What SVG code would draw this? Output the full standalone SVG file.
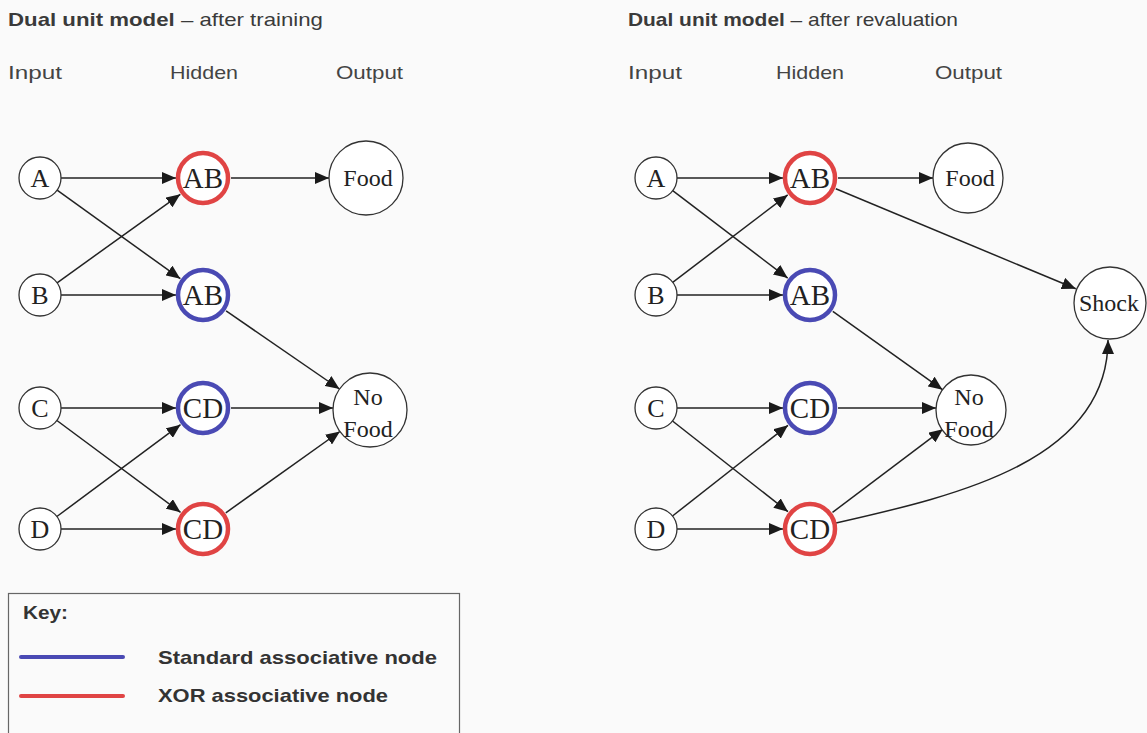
<svg xmlns="http://www.w3.org/2000/svg" width="1147" height="733" viewBox="0 0 1147 733">
<defs>
<marker id="ah" markerUnits="userSpaceOnUse" markerWidth="15" markerHeight="12" refX="14" refY="6" orient="auto">
<path d="M0,0 L14,6 L0,12 z" fill="#1a1a1a"/>
</marker>
<style>
.bg{fill:#fafafa}
.ttl{font-family:"Liberation Sans",Arial,sans-serif;font-size:18.5px;fill:#3a3a3a}
.b{font-weight:bold}
.col{font-family:"Liberation Sans",Arial,sans-serif;font-size:19px;fill:#444}
.in{fill:#fff;stroke:#333;stroke-width:1.3}
.out{fill:#fff;stroke:#333;stroke-width:1.3}
.red{fill:#fff;stroke:#e04444;stroke-width:4.5}
.blue{fill:#fff;stroke:#4a4ab4;stroke-width:4.5}
.nt{font-family:"Liberation Serif","Times New Roman",serif;fill:#222;text-anchor:middle}
.s1{font-size:26px}
.s2{font-size:29px}
.s3{font-size:24px}
.c{fill:none;stroke:#222;stroke-width:1.5;marker-end:url(#ah)}
.key{font-family:"Liberation Sans",Arial,sans-serif;font-size:19px;font-weight:bold;fill:#333}
</style>
</defs>
<rect class="bg" x="0" y="0" width="1147" height="733"/>

<g id="titles">
<text class="ttl" x="8" y="26" textLength="315" lengthAdjust="spacingAndGlyphs"><tspan class="b">Dual unit model</tspan> – after training</text>
<text class="ttl" x="628" y="26" textLength="330" lengthAdjust="spacingAndGlyphs"><tspan class="b">Dual unit model</tspan> – after revaluation</text>
<text class="col" x="8" y="79" textLength="54" lengthAdjust="spacingAndGlyphs">Input</text>
<text class="col" x="170" y="79" textLength="68" lengthAdjust="spacingAndGlyphs">Hidden</text>
<text class="col" x="336" y="79" textLength="67" lengthAdjust="spacingAndGlyphs">Output</text>
<text class="col" x="628" y="79" textLength="54" lengthAdjust="spacingAndGlyphs">Input</text>
<text class="col" x="776" y="79" textLength="68" lengthAdjust="spacingAndGlyphs">Hidden</text>
<text class="col" x="935" y="79" textLength="67" lengthAdjust="spacingAndGlyphs">Output</text>
</g>

<g id="connectors">
<line class="c" x1="61" y1="178" x2="176" y2="178"/>
<line class="c" x1="57.1" y1="190.2" x2="180.3" y2="278.7"/>
<line class="c" x1="57.1" y1="282.8" x2="180.3" y2="194.3"/>
<line class="c" x1="61" y1="295" x2="176" y2="295"/>
<line class="c" x1="61" y1="408" x2="176" y2="408"/>
<line class="c" x1="56.9" y1="420.5" x2="180.5" y2="512.3"/>
<line class="c" x1="56.9" y1="516.5" x2="180.5" y2="424.7"/>
<line class="c" x1="61" y1="529" x2="176" y2="529"/>
<line class="c" x1="231" y1="178" x2="329" y2="178"/>
<line class="c" x1="226.1" y1="310.9" x2="339.5" y2="389"/>
<line class="c" x1="231" y1="408" x2="333" y2="408"/>
<line class="c" x1="225.8" y1="512.8" x2="339.9" y2="431.5"/>

<line class="c" x1="677" y1="178" x2="783" y2="178"/>
<line class="c" x1="672.7" y1="190.7" x2="787.7" y2="278.1"/>
<line class="c" x1="672.7" y1="282.3" x2="787.7" y2="194.9"/>
<line class="c" x1="677" y1="295" x2="783" y2="295"/>
<line class="c" x1="677" y1="408" x2="783" y2="408"/>
<line class="c" x1="672.5" y1="421" x2="788" y2="511.7"/>
<line class="c" x1="672.5" y1="516" x2="788" y2="425.3"/>
<line class="c" x1="677" y1="529" x2="783" y2="529"/>
<line class="c" x1="838" y1="178" x2="933" y2="178"/>
<line class="c" x1="832.8" y1="311.3" x2="942.5" y2="389.7"/>
<line class="c" x1="838" y1="408" x2="936" y2="408"/>
<line class="c" x1="832.5" y1="512.4" x2="942.9" y2="429.2"/>
<line class="c" x1="835.8" y1="188.8" x2="1075.8" y2="288.8"/>
<path class="c" d="M836,523 C960,495 1108,460 1108,340"/>
</g>

<g id="L-A"><circle class="in" cx="40" cy="178" r="21"/><text class="nt s1" x="40" y="187">A</text></g>
<g id="L-B"><circle class="in" cx="40" cy="295" r="21"/><text class="nt s1" x="40" y="304">B</text></g>
<g id="L-C"><circle class="in" cx="40" cy="408" r="21"/><text class="nt s1" x="40" y="417">C</text></g>
<g id="L-D"><circle class="in" cx="40" cy="529" r="21"/><text class="nt s1" x="40" y="538">D</text></g>
<g id="L-ABx"><circle class="red" cx="203" cy="178" r="25"/><text class="nt s2" x="203" y="188">AB</text></g>
<g id="L-ABs"><circle class="blue" cx="203" cy="295" r="25"/><text class="nt s2" x="203" y="305">AB</text></g>
<g id="L-CDs"><circle class="blue" cx="203" cy="408" r="25"/><text class="nt s2" x="203" y="418">CD</text></g>
<g id="L-CDx"><circle class="red" cx="203" cy="529" r="25"/><text class="nt s2" x="203" y="539">CD</text></g>
<g id="L-Food"><circle class="out" cx="366" cy="178" r="37"/><text class="nt s3" x="368" y="186">Food</text></g>
<g id="L-NoFood"><circle class="out" cx="370" cy="410" r="37"/><text class="nt s3" x="368" y="405">No</text><text class="nt s3" x="368" y="437">Food</text></g>

<g id="R-A"><circle class="in" cx="656" cy="178" r="21"/><text class="nt s1" x="656" y="187">A</text></g>
<g id="R-B"><circle class="in" cx="656" cy="295" r="21"/><text class="nt s1" x="656" y="304">B</text></g>
<g id="R-C"><circle class="in" cx="656" cy="408" r="21"/><text class="nt s1" x="656" y="417">C</text></g>
<g id="R-D"><circle class="in" cx="656" cy="529" r="21"/><text class="nt s1" x="656" y="538">D</text></g>
<g id="R-ABx"><circle class="red" cx="810" cy="178" r="25"/><text class="nt s2" x="810" y="188">AB</text></g>
<g id="R-ABs"><circle class="blue" cx="810" cy="295" r="25"/><text class="nt s2" x="810" y="305">AB</text></g>
<g id="R-CDs"><circle class="blue" cx="810" cy="408" r="25"/><text class="nt s2" x="810" y="418">CD</text></g>
<g id="R-CDx"><circle class="red" cx="810" cy="529" r="25"/><text class="nt s2" x="810" y="539">CD</text></g>
<g id="R-Food"><circle class="out" cx="968" cy="178" r="35"/><text class="nt s3" x="970" y="186">Food</text></g>
<g id="R-NoFood"><circle class="out" cx="971" cy="410" r="35"/><text class="nt s3" x="969" y="405">No</text><text class="nt s3" x="969" y="437">Food</text></g>
<g id="R-Shock"><circle class="out" cx="1110" cy="303" r="36"/><text class="nt s3" x="1109" y="311">Shock</text></g>

<g id="key">
<rect x="8.5" y="593.5" width="451" height="150" fill="none" stroke="#666" stroke-width="1.2"/>
<text class="key" x="23" y="619" textLength="45" lengthAdjust="spacingAndGlyphs">Key:</text>
<line x1="21" y1="657" x2="123" y2="657" stroke="#4a4ab4" stroke-width="4" stroke-linecap="round"/>
<text class="key" x="158" y="664" textLength="279" lengthAdjust="spacingAndGlyphs">Standard associative node</text>
<line x1="21" y1="696" x2="123" y2="696" stroke="#e04444" stroke-width="4" stroke-linecap="round"/>
<text class="key" x="158" y="702" textLength="230" lengthAdjust="spacingAndGlyphs">XOR associative node</text>
</g>
</svg>
